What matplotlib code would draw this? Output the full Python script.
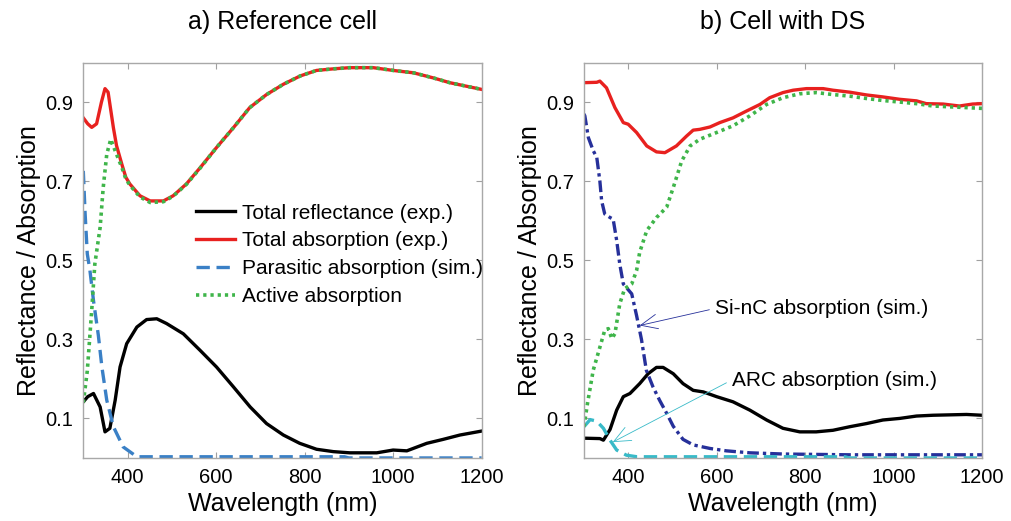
import matplotlib
matplotlib.use("Agg")
import matplotlib.pyplot as plt

plt.rcParams["font.family"] = ["Liberation Sans", "DejaVu Sans"]

# ---- a) reference cell ----
wl_ref_R = [300, 310, 323, 338, 349, 360, 372, 383, 398, 421, 443, 466, 488, 526, 564, 601, 639, 677,
            714, 752, 789, 827, 865, 902, 963, 1000, 1031, 1076, 1113, 1151, 1200]
R_ref = [0.142, 0.155, 0.163, 0.129, 0.066, 0.075, 0.146, 0.23, 0.289, 0.331, 0.35, 0.352, 0.34, 0.314,
         0.272, 0.23, 0.18, 0.129, 0.087, 0.058, 0.037, 0.022, 0.016, 0.013, 0.013, 0.02, 0.018, 0.037,
         0.047, 0.058, 0.068]

wl_ref_A = [300, 310, 319, 330, 341, 349, 356, 362, 368, 375, 387, 396, 405, 428, 451, 481, 503, 533,
            564, 601, 639, 676, 714, 752, 790, 827, 865, 902, 955, 1000, 1046, 1091, 1128, 1166, 1200]
A_ref = [0.86, 0.845, 0.836, 0.845, 0.9, 0.934, 0.925, 0.88, 0.835, 0.79, 0.743, 0.71, 0.693, 0.663,
         0.65, 0.65, 0.663, 0.693, 0.734, 0.785, 0.835, 0.886, 0.919, 0.945, 0.966, 0.98, 0.984, 0.987,
         0.987, 0.98, 0.974, 0.961, 0.949, 0.94, 0.932]

wl_ref_par = [300, 304, 309, 315, 323, 334, 342, 353, 368, 390, 421, 500, 700, 890, 900, 1200]
par_ref = [0.726, 0.62, 0.516, 0.474, 0.398, 0.31, 0.23, 0.146, 0.079, 0.028, 0.003, 0.003, 0.003,
           0.003, 0.0, 0.0]

wl_ref_act = [300, 309, 319, 326, 338, 345, 353, 362, 375, 387, 396, 405, 428, 451, 481, 503, 533, 564,
              601, 639, 676, 714, 752, 790, 827, 865, 902, 955, 1000, 1046, 1091, 1128, 1166, 1200]
act_ref = [0.14, 0.22, 0.373, 0.49, 0.583, 0.684, 0.768, 0.806, 0.768, 0.735, 0.706, 0.69, 0.66, 0.646,
           0.648, 0.662, 0.692, 0.733, 0.785, 0.835, 0.886, 0.919, 0.945, 0.966, 0.98, 0.984, 0.987,
           0.987, 0.98, 0.974, 0.961, 0.949, 0.94, 0.932]

# ---- b) cell with DS ----
wl_ds_R = [300, 336, 344, 359, 374, 389, 404, 426, 445, 464, 479, 502, 524, 547, 570, 600, 637, 675,
           713, 750, 788, 825, 863, 901, 939, 976, 1014, 1052, 1089, 1165, 1200]
R_ds = [0.05, 0.049, 0.045, 0.072, 0.121, 0.155, 0.163, 0.188, 0.213, 0.229, 0.229, 0.213, 0.188, 0.171,
        0.167, 0.155, 0.142, 0.121, 0.096, 0.075, 0.066, 0.066, 0.07, 0.079, 0.087, 0.096, 0.1, 0.106,
        0.108, 0.11, 0.108]

wl_ds_A = [300, 329, 336, 351, 370, 389, 400, 419, 442, 464, 483, 509, 532, 547, 562, 585, 607, 637,
           667, 698, 720, 750, 773, 803, 841, 863, 901, 939, 976, 1014, 1052, 1074, 1112, 1149, 1179, 1200]
A_ds = [0.949, 0.95, 0.953, 0.936, 0.886, 0.848, 0.844, 0.823, 0.789, 0.774, 0.772, 0.789, 0.814, 0.829,
        0.831, 0.837, 0.848, 0.86, 0.877, 0.894, 0.911, 0.924, 0.93, 0.934, 0.934, 0.93, 0.925, 0.918,
        0.913, 0.907, 0.903, 0.896, 0.895, 0.89, 0.895, 0.896]

wl_ds_nc = [300, 302, 310, 321, 329, 336, 340, 347, 359, 366, 374, 381, 389, 408, 419, 430, 441, 456,
            471, 487, 502, 524, 547, 585, 622, 675, 750, 900, 1200]
nc_ds = [0.87, 0.865, 0.81, 0.777, 0.76, 0.70, 0.65, 0.617, 0.608, 0.604, 0.55, 0.49, 0.44, 0.415, 0.36,
         0.30, 0.222, 0.18, 0.146, 0.113, 0.08, 0.047, 0.033, 0.024, 0.018, 0.013, 0.01, 0.008, 0.008]

wl_ds_arc = [300, 314, 329, 344, 359, 374, 396, 420, 600, 890, 900, 1200]
arc_ds = [0.079, 0.097, 0.093, 0.075, 0.045, 0.02, 0.007, 0.003, 0.003, 0.003, 0.0, 0.0]

wl_ds_act = [300, 308, 321, 336, 347, 355, 363, 370, 381, 392, 408, 419, 426, 442, 464, 487, 502, 521,
             540, 562, 600, 637, 675, 713, 750, 788, 825, 863, 901, 939, 976, 1014, 1052, 1089, 1165, 1200]
act_ds = [0.079, 0.138, 0.222, 0.28, 0.323, 0.327, 0.302, 0.314, 0.39, 0.428, 0.44, 0.474, 0.52, 0.575,
          0.608, 0.634, 0.684, 0.751, 0.789, 0.806, 0.823, 0.84, 0.865, 0.894, 0.911, 0.921, 0.924, 0.919,
          0.915, 0.909, 0.904, 0.9, 0.896, 0.89, 0.886, 0.884]

x_ticks = [400, 600, 800, 1000, 1200]
y_ticks = [0.1, 0.3, 0.5, 0.7, 0.9]

c_black = "black"
c_red = "#e8211f"
c_blue = "#3a80c6"
c_green = "#3fb54a"
c_navy = "#26309a"
c_cyan = "#38bac8"

solid = dict(lw=2.4)
dashed = dict(lw=2.4, ls=(0, (4, 2)))
dotted = dict(lw=2.6, ls=(0, (0.9, 1.1)))
dashdot = dict(lw=2.4, ls=(0, (3.5, 1.2, 1, 1.2)))


def style_axes(ax, title):
    ax.set_xlim(300, 1200)
    ax.set_ylim(0, 1)
    ax.set_xticks(x_ticks)
    ax.set_yticks(y_ticks)
    ax.set_yticklabels([f"{t:.1f}" for t in y_ticks])
    ax.tick_params(direction="in", top=True, right=True, length=4, color="#a0a0a0",
                   labelsize=14.5, pad=7)
    for sp in ax.spines.values():
        sp.set_color("#a8a8a8")
        sp.set_linewidth(1.0)
    ax.set_xlabel("Wavelength (nm)", fontsize=18, labelpad=4)
    ax.set_ylabel("Reflectance / Absorption", fontsize=18, labelpad=3)
    ax.set_title(title, fontsize=18, pad=24)


fig = plt.figure(figsize=(10.11, 5.21), dpi=100)
ax = fig.add_axes([0.0824, 0.121, 0.394, 0.759])
bx = fig.add_axes([0.5776, 0.121, 0.3937, 0.759])

# left panel
ax.plot(wl_ref_R, R_ref, color=c_black, label="Total reflectance (exp.)", **solid)
ax.plot(wl_ref_A, A_ref, color=c_red, label="Total absorption (exp.)", **solid)
ax.plot(wl_ref_par, par_ref, color=c_blue, label="Parasitic absorption (sim.)", **dashed)
ax.plot(wl_ref_act, act_ref, color=c_green, label="Active absorption", **dotted)
style_axes(ax, "a) Reference cell")
ax.legend(loc="upper left", bbox_to_anchor=(0.283, 0.643), frameon=False, fontsize=15,
          handlelength=1.85, handletextpad=0.35, labelspacing=0.42, borderpad=0, borderaxespad=0)

# right panel
bx.plot(wl_ds_R, R_ds, color=c_black, **solid)
bx.plot(wl_ds_A, A_ds, color=c_red, **solid)
bx.plot(wl_ds_nc, nc_ds, color=c_navy, **dashdot)
bx.plot(wl_ds_arc, arc_ds, color=c_cyan, **dashed)
bx.plot(wl_ds_act, act_ds, color=c_green, **dotted)
style_axes(bx, "b) Cell with DS")

bx.annotate("Si-nC absorption (sim.)", xy=(426, 0.335), xytext=(596, 0.378), fontsize=15,
            ha="left", va="center",
            arrowprops=dict(arrowstyle="->,head_length=0.8,head_width=0.35", color=c_navy, lw=0.6,
                            relpos=(0, 0.5), shrinkA=2, shrinkB=0))
bx.annotate("ARC absorption (sim.)", xy=(365, 0.04), xytext=(634, 0.197), fontsize=15,
            ha="left", va="center",
            arrowprops=dict(arrowstyle="->,head_length=0.8,head_width=0.35", color=c_cyan, lw=0.6,
                            relpos=(0, 0.5), shrinkA=2, shrinkB=0))

fig.savefig("out.png", dpi=100)
plt.close(fig)
